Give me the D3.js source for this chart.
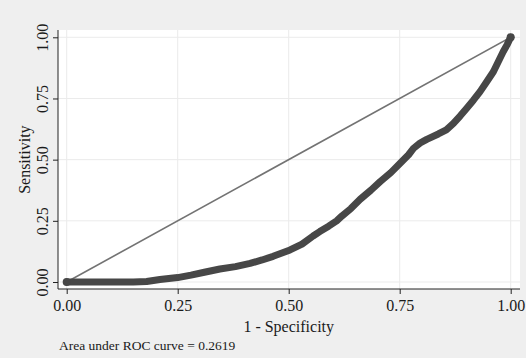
<!DOCTYPE html>
<html>
<head>
<meta charset="utf-8">
<script src="https://cdn.jsdelivr.net/npm/d3@7"></script>
<style>
  html, body { margin: 0; padding: 0; background: #efefef; }
  svg { display: block; }
  text { font-family: "Liberation Serif", "Times New Roman", serif; fill: #1a1a1a; }
</style>
</head>
<body>
<svg id="chart" width="526" height="358"></svg>
<script>
// ROC curve points: false positive rate (1 - specificity) vs. true positive rate
const fpr = [0, 0.05, 0.10, 0.15, 0.18, 0.21, 0.25, 0.28, 0.31, 0.345, 0.38, 0.413, 0.44, 0.465,
             0.503, 0.53, 0.555, 0.57, 0.59, 0.608, 0.62, 0.64, 0.661, 0.685, 0.706, 0.73, 0.751,
             0.77, 0.781, 0.796, 0.811, 0.837, 0.855, 0.871, 0.886, 0.901, 0.916, 0.931, 0.946,
             0.961, 0.972, 0.983, 0.992, 1.0];
const tpr = [0, 0, 0, 0, 0.002, 0.01, 0.018, 0.028, 0.04, 0.053, 0.063, 0.076, 0.09, 0.105,
             0.131, 0.155, 0.188, 0.206, 0.228, 0.25, 0.27, 0.30, 0.338, 0.375, 0.41, 0.447, 0.485,
             0.52, 0.546, 0.568, 0.583, 0.605, 0.622, 0.648, 0.678, 0.71, 0.743, 0.778, 0.818,
             0.859, 0.9, 0.941, 0.97, 1.0];
// Reference line of no discrimination
const diagonal = [[0, 0], [1, 1]];
const tickValues = [0, 0.25, 0.5, 0.75, 1];
const xTitle = "1 - Specificity";
const yTitle = "Sensitivity";
const aucNote = "Area under ROC curve = 0.2619";

const svg = d3.select("#chart");
const W = 526, H = 358;
const plot = { left: 58, right: 520, top: 30, bottom: 289 };

svg.append("rect").attr("width", W).attr("height", H).attr("fill", "#efefef");
svg.append("rect")
  .attr("x", plot.left).attr("y", plot.top)
  .attr("width", plot.right - plot.left).attr("height", plot.bottom - plot.top)
  .attr("fill", "#ffffff");

const x = d3.scaleLinear().domain([0, 1]).range([66.7, 510.7]);
const y = d3.scaleLinear().domain([0, 1]).range([282, 37.3]);
const fmt = d3.format(".2f");

// gridlines
const grid = svg.append("g").attr("stroke", "#ebebeb").attr("stroke-width", 1);
grid.selectAll("line.v").data(tickValues).join("line")
  .attr("x1", d => x(d)).attr("x2", d => x(d))
  .attr("y1", plot.top).attr("y2", plot.bottom);
grid.selectAll("line.h").data(tickValues).join("line")
  .attr("y1", d => y(d)).attr("y2", d => y(d))
  .attr("x1", plot.left).attr("x2", plot.right);

// axes
const xAxis = d3.axisBottom(x).tickValues(tickValues).tickFormat(fmt).tickSize(5).tickSizeOuter(0);
const gx = svg.append("g").attr("transform", `translate(0,${plot.bottom})`).call(xAxis);
gx.select(".domain").attr("d", `M${plot.left},0H${plot.right}`).attr("stroke", "#222");
gx.selectAll(".tick line").attr("stroke", "#222");
gx.selectAll(".tick text")
  .attr("font-size", 16).attr("font-family", "Liberation Serif, serif")
  .attr("fill", "#1a1a1a").attr("y", 22).attr("dy", null);

const yAxis = d3.axisLeft(y).tickValues(tickValues).tickFormat(fmt).tickSize(5).tickSizeOuter(0);
const gy = svg.append("g").attr("transform", `translate(${plot.left},0)`).call(yAxis);
gy.select(".domain").attr("d", `M0,${plot.top}V${plot.bottom}`).attr("stroke", "#222");
gy.selectAll(".tick line").attr("stroke", "#222");
gy.selectAll(".tick text")
  .attr("font-size", 16).attr("font-family", "Liberation Serif, serif")
  .attr("fill", "#1a1a1a")
  .attr("x", null).attr("dy", null)
  .attr("text-anchor", "middle")
  .attr("transform", "translate(-10,0) rotate(-90)");

// diagonal reference
const line = d3.line().x(d => x(d[0])).y(d => y(d[1]));
svg.append("path").datum(diagonal)
  .attr("d", line).attr("fill", "none")
  .attr("stroke", "#737373").attr("stroke-width", 1.6);

// ROC curve drawn as thick connected markers
const roc = fpr.map((f, i) => [f, tpr[i]]);
svg.append("path").datum(roc)
  .attr("d", line).attr("fill", "none")
  .attr("stroke", "#474747").attr("stroke-width", 7)
  .attr("stroke-linejoin", "round").attr("stroke-linecap", "round");
svg.append("g").selectAll("circle").data([roc[0], roc[roc.length - 1]]).join("circle")
  .attr("cx", d => x(d[0])).attr("cy", d => y(d[1])).attr("r", 4)
  .attr("fill", "#474747");

// titles
svg.append("text")
  .attr("x", x(0.5)).attr("y", 332)
  .attr("text-anchor", "middle").attr("font-size", 16)
  .text(xTitle);
svg.append("text")
  .attr("transform", `translate(30,${y(0.5)}) rotate(-90)`)
  .attr("text-anchor", "middle").attr("font-size", 16)
  .text(yTitle);
svg.append("text")
  .attr("x", 59).attr("y", 350)
  .attr("font-size", 13.5)
  .text(aucNote);
</script>
</body>
</html>
